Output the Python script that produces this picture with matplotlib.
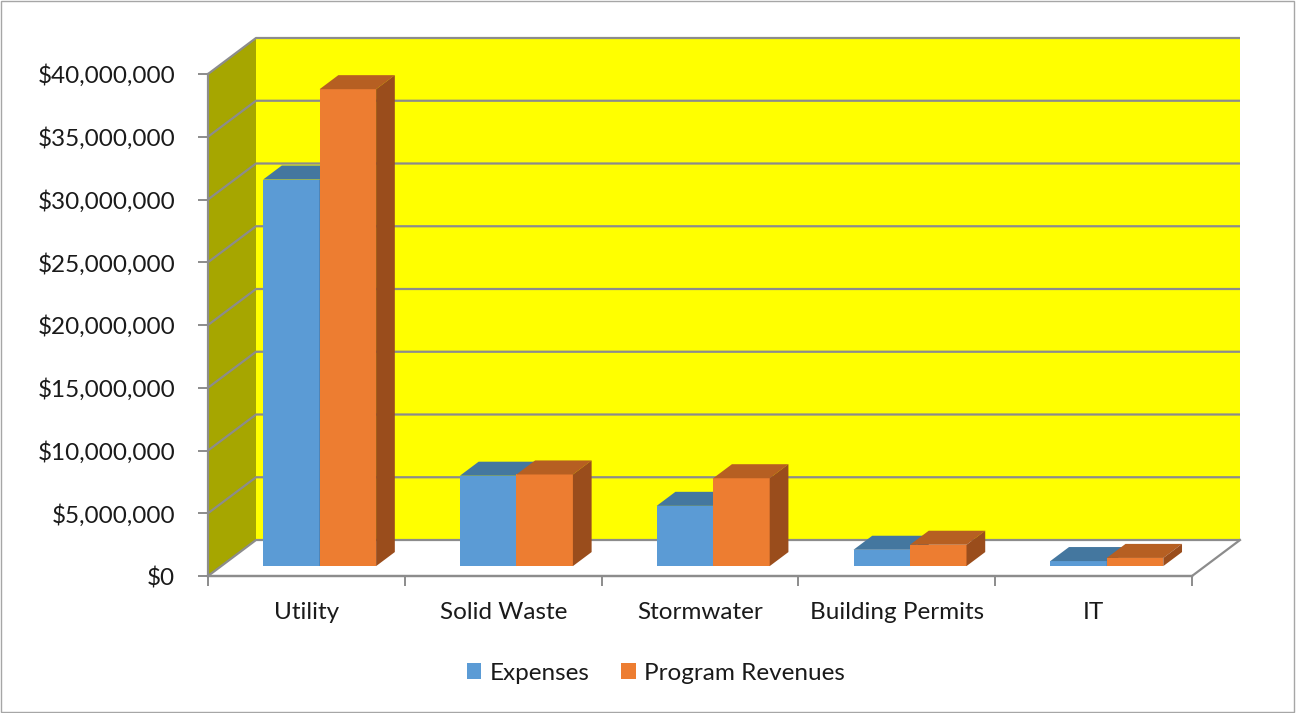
import matplotlib.pyplot as plt
from matplotlib.patches import Polygon, Patch, Rectangle

plt.rcParams['font.family'] = ['Lato', 'DejaVu Sans']

# data
categories = ["Utility", "Solid Waste", "Stormwater", "Building Permits", "IT"]
expenses = [30.8e6, 7.2e6, 4.8e6, 1.3e6, 0.4e6]
revenues = [38.0e6, 7.3e6, 7.0e6, 1.7e6, 0.65e6]
y_ticks = [0, 5e6, 10e6, 15e6, 20e6, 25e6, 30e6, 35e6, 40e6]
y_labels = ["$0", "$5,000,000", "$10,000,000", "$15,000,000", "$20,000,000",
            "$25,000,000", "$30,000,000", "$35,000,000", "$40,000,000"]
series_names = ["Expenses", "Program Revenues"]

# colours: front, top, side
blue = ("#5B9BD5", "#44779F", "#3A6690")
orange = ("#ED7D31", "#B65F22", "#9A4D1C")
grid_c = "#8C8C8C"
txt_c = "#1a1a1a"
fs = 17.5

fig = plt.figure(figsize=(12.96, 7.13), dpi=100)
W, H = 1296, 713
ax = fig.add_axes([208 / W, (H - 576) / H, 984 / W, 502 / H])
ax.set_xlim(-0.5, 4.5)
ax.set_ylim(0, 40e6)
ax.patch.set_visible(False)

# pixel -> data scale for the fake depth
x_px = 984 / 5
y_px = 502 / 40e6
DX = 48 / x_px
DY = 36 / y_px
ymax = y_ticks[-1]
x0, x1 = -0.5, len(categories) - 0.5

# walls
ax.add_patch(Polygon([(x0, 0), (x0, ymax), (x0 + DX, ymax + DY), (x0 + DX, DY)],
                     closed=True, fc="#A6A600", ec="none", clip_on=False, zorder=1))
ax.add_patch(Polygon([(x0 + DX, DY), (x0 + DX, ymax + DY), (x1 + DX, ymax + DY), (x1 + DX, DY)],
                     closed=True, fc="#FFFF00", ec="none", clip_on=False, zorder=1))

# gridlines over side + back wall
for v in y_ticks:
    ax.plot([x0, x0 + DX, x1 + DX], [v, v + DY, v + DY], color=grid_c, lw=1.6,
            clip_on=False, zorder=2, solid_capstyle='butt')
ax.plot([x1, x1 + DX], [0, DY], color=grid_c, lw=1.6, clip_on=False, zorder=2)
ax.plot([x0, x1], [0, 0], color=grid_c, lw=1.6, clip_on=False, zorder=2)

# bars
w = 56.5 / x_px
f0 = 0.275   # depth position of bar front
bd = 0.39    # bar depth fraction
for i in range(len(categories)):
    for j, (vals, cols) in enumerate([(expenses, blue), (revenues, orange)]):
        v = vals[i]
        left = i - w + j * w + f0 * DX
        base = f0 * DY
        right = left + w
        top = base + v
        ddx, ddy = bd * DX, bd * DY
        ax.add_patch(Polygon([(left, base), (right, base), (right, top), (left, top)],
                             fc=cols[0], ec="none", clip_on=False, zorder=3 + j))
        ax.add_patch(Polygon([(left, top), (right, top), (right + ddx, top + ddy), (left + ddx, top + ddy)],
                             fc=cols[1], ec="none", clip_on=False, zorder=3 + j))
        ax.add_patch(Polygon([(right, base), (right, top), (right + ddx, top + ddy), (right + ddx, base + ddy)],
                             fc=cols[2], ec="none", clip_on=False, zorder=3 + j))

# axes styling
for s in ["top", "right"]:
    ax.spines[s].set_visible(False)
for s in ["left", "bottom"]:
    ax.spines[s].set_color(grid_c)
    ax.spines[s].set_linewidth(1.6)
    ax.spines[s].set_zorder(2.5)

ax.set_yticks(y_ticks, y_labels)
ax.tick_params(axis='y', length=7, width=1.4, color=grid_c, pad=16.5,
               labelsize=fs, labelcolor=txt_c)
ax.set_xticks(range(len(categories)), categories)
ax.set_xticks([k - 0.5 for k in range(len(categories) + 1)], minor=True)
ax.tick_params(axis='x', which='major', length=0, pad=19, labelsize=fs, labelcolor=txt_c)
ax.tick_params(axis='x', which='minor', length=7, width=1.4, color=grid_c)

handles = [Patch(fc=blue[0], ec="none"), Patch(fc=orange[0], ec="none")]
fig.legend(handles, series_names, loc='center', bbox_to_anchor=(656 / W, 1 - 673 / H),
           ncol=2, frameon=False, fontsize=fs, handlelength=0.6, handleheight=0.6,
           handletextpad=0.35, columnspacing=1.3, labelcolor=txt_c)

fig.add_artist(Rectangle((0.0008, 0.0014), 0.9976, 0.9972, transform=fig.transFigure,
                         fill=False, ec="#A6A6A6", lw=1))

fig.savefig("out.png", dpi=100)
